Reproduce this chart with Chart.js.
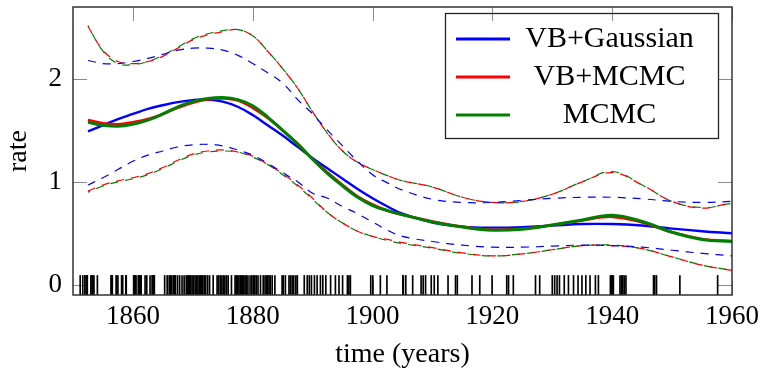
<!DOCTYPE html>
<html><head><meta charset="utf-8">
<script src="https://cdn.jsdelivr.net/npm/chart.js@4/dist/chart.umd.min.js"></script>
<style>html,body{margin:0;padding:0;background:#fff;}#wrap{width:764px;height:375px;}</style>
</head><body><div id="wrap"><canvas id="c" width="764" height="375"></canvas></div>
<script>
// ---- data ----
const years = [1852.5,1855,1857.5,1860,1862.5,1865,1867.5,1870,1872.5,1875,1877.5,1880,1882.5,1885,1887.5,1890,1892.5,1895,1897.5,1900,1902.5,1905,1910,1915,1920,1925,1930,1935,1940,1945,1950,1955,1960];

const vbGaussMean  = [1.49,1.55,1.61,1.66,1.71,1.745,1.775,1.795,1.80,1.78,1.73,1.65,1.55,1.45,1.34,1.23,1.13,1.03,0.93,0.84,0.76,0.69,0.605,0.565,0.555,0.56,0.575,0.59,0.59,0.575,0.545,0.52,0.50];
const vbGaussUpper = [2.18,2.15,2.15,2.17,2.20,2.24,2.28,2.30,2.30,2.28,2.23,2.15,2.06,1.96,1.80,1.66,1.50,1.35,1.20,1.07,0.99,0.92,0.83,0.80,0.80,0.82,0.84,0.85,0.85,0.835,0.81,0.80,0.81];
const vbGaussLower = [0.97,1.04,1.12,1.20,1.26,1.30,1.34,1.36,1.365,1.35,1.31,1.26,1.18,1.09,1.00,0.89,0.84,0.76,0.69,0.61,0.53,0.47,0.42,0.385,0.365,0.365,0.375,0.385,0.38,0.365,0.335,0.305,0.28];

const vbMcmcMean   = [1.60,1.57,1.56,1.58,1.61,1.66,1.72,1.77,1.80,1.81,1.79,1.72,1.62,1.50,1.37,1.22,1.09,0.97,0.86,0.78,0.72,0.68,0.615,0.565,0.535,0.545,0.58,0.625,0.66,0.605,0.51,0.445,0.425];
const vbMcmcUpper  = [2.51,2.28,2.17,2.15,2.17,2.22,2.30,2.38,2.43,2.46,2.48,2.42,2.27,2.10,1.91,1.68,1.47,1.30,1.19,1.12,1.06,1.01,0.95,0.85,0.80,0.81,0.88,1.00,1.09,0.97,0.81,0.745,0.80];
const vbMcmcLower  = [0.91,0.97,1.01,1.04,1.08,1.14,1.21,1.27,1.30,1.31,1.29,1.25,1.17,1.08,0.97,0.84,0.70,0.60,0.52,0.47,0.44,0.41,0.36,0.31,0.28,0.30,0.34,0.38,0.38,0.35,0.27,0.19,0.14];

const mcmcMean     = [1.58,1.55,1.54,1.56,1.60,1.66,1.73,1.78,1.81,1.82,1.80,1.74,1.63,1.50,1.37,1.22,1.08,0.96,0.85,0.77,0.72,0.68,0.61,0.56,0.53,0.54,0.58,0.63,0.675,0.615,0.51,0.44,0.42];
const mcmcUpper    = [2.52,2.27,2.15,2.14,2.17,2.23,2.31,2.39,2.44,2.47,2.48,2.42,2.27,2.10,1.91,1.68,1.47,1.30,1.19,1.12,1.06,1.01,0.95,0.85,0.80,0.81,0.88,1.00,1.10,0.97,0.81,0.75,0.79];
const mcmcLower    = [0.90,0.96,1.00,1.03,1.07,1.13,1.20,1.26,1.29,1.30,1.29,1.24,1.17,1.07,0.96,0.83,0.70,0.60,0.52,0.47,0.43,0.40,0.355,0.305,0.28,0.30,0.34,0.38,0.385,0.35,0.27,0.19,0.14];

// observed event times (years), drawn as a rug
const events = [1851.20,1851.63,1851.97,1851.98,1852.31,1852.35,1852.36,1852.39,1852.98,1853.20,1853.23,1853.32,1853.50,1854.07,
1856.35,1856.42,1856.50,1856.56,1857.22,1857.26,1857.50,1858.11,1858.30,1858.81,1858.89,
1860.12,1860.29,1860.30,1860.41,1860.52,1860.89,1861.05,1861.23,1861.38,1862.03,1862.31,1862.86,1863.22,1863.27,1863.49,1863.58,
1865.30,1865.72,1866.05,1866.20,1866.34,1866.50,1866.78,1866.96,1867.10,1867.45,1867.80,1868.20,1868.55,1868.90,
1869.05,1869.25,1869.42,1869.65,1869.88,1870.12,1870.38,1870.62,1870.85,1871.08,1871.27,1871.45,1871.66,1871.90,
1872.15,1872.48,1872.80,1873.40,1874.05,1874.30,1874.58,1874.85,1875.10,1875.35,1875.62,1875.90,1876.45,
1877.05,1877.25,1877.47,1877.70,1877.92,1878.10,1878.30,1878.52,1878.72,1878.95,1879.20,1879.55,1879.85,
1880.10,1880.35,1880.60,1880.88,1881.30,1881.75,1882.05,1882.28,1882.50,1882.72,1882.94,1883.25,1883.70,
1884.90,1885.10,1885.45,1886.05,1886.30,1886.58,1886.85,1887.20,1887.45,1888.60,1889.10,1889.45,1889.80,
1890.30,1890.75,1891.30,1891.70,1892.20,1893.00,1893.80,1894.40,1895.00,1895.80,1896.05,1896.30,
1899.70,1900.05,1901.30,1902.40,1905.05,1905.15,1905.55,1906.70,1908.10,1908.45,1908.85,1909.80,1910.30,1910.90,
1912.60,1913.85,1914.15,1916.60,1917.90,1919.95,1922.40,1922.70,1923.50,1927.20,1927.90,
1930.00,1930.40,1930.80,1931.20,1932.00,1932.70,1933.55,1934.30,1934.95,1935.60,1936.30,1937.20,1937.70,
1939.70,1939.85,1940.00,1940.20,1941.30,1941.55,1941.75,1942.00,1942.30,1946.90,1947.10,1947.40,1951.30,1957.60];

const xTicks = [1860,1880,1900,1920,1940,1960];
const yTicks = [0,1,2];
const xRange = [1850,1960];
const yRange = [-0.1,2.7];
const rugTop = 0.09;
const names = ['VB+Gaussian','VB+MCMC','MCMC'];

// ---- chart ----
Chart.defaults.font.family = "'Liberation Serif', 'DejaVu Serif', serif";
Chart.defaults.color = '#000';

const pts = arr => years.map((x,i)=>({x, y: arr[i]}));
function line(label, arr, color, width, dash, dashOffset){
  return {type:'line', label, data: pts(arr), borderColor: color, backgroundColor: color,
    borderWidth: width, borderDash: dash || [], borderDashOffset: dashOffset || 0,
    pointRadius: 0, fill: false, tension: 0.4, order: dash ? 5 : 1};
}
const DASH = [8,7];
const datasets = [
  {type:'bar', label:'events', data: events.map(t=>({x:t, y:[yRange[0], rugTop]})),
   backgroundColor:'#000', borderWidth:0, barThickness:1, order: 20},
  line('VB+Gaussian upper', vbGaussUpper, '#0000ff', 1.2, DASH, 0),
  line('VB+Gaussian lower', vbGaussLower, '#0000ff', 1.2, DASH, 0),
  line('VB+MCMC upper', vbMcmcUpper, '#ff0000', 1.2, DASH, 0),
  line('VB+MCMC lower', vbMcmcLower, '#ff0000', 1.2, DASH, 0),
  line('MCMC upper', mcmcUpper, '#008000', 1.2, DASH, 6),
  line('MCMC lower', mcmcLower, '#008000', 1.2, DASH, 6),
  line(names[0], vbGaussMean, '#0000ff', 2.4),
  line(names[1], vbMcmcMean, '#ff0000', 2.6),
  line(names[2], mcmcMean, '#008000', 3.0)
];
datasets[7].order = 3; datasets[8].order = 2; datasets[9].order = 1;
const legendIdx = [7,8,9];

const framePlugin = {
  id:'frame',
  beforeDatasetsDraw(chart){
    const {ctx, chartArea:{left,right,top,bottom}, scales:{x,y}} = chart;
    ctx.save(); ctx.strokeStyle = '#8a8a8a'; ctx.lineWidth = 1;
    const L = 14;
    ctx.beginPath();
    xTicks.forEach(v=>{ const p = Math.round(x.getPixelForValue(v))+0.5;
      ctx.moveTo(p,bottom); ctx.lineTo(p,bottom-L); ctx.moveTo(p,top); ctx.lineTo(p,top+L); });
    yTicks.forEach(v=>{ const p = Math.round(y.getPixelForValue(v))+0.5;
      ctx.moveTo(left,p); ctx.lineTo(left+L,p); ctx.moveTo(right,p); ctx.lineTo(right-L,p); });
    ctx.stroke(); ctx.restore();
  },
  afterLayout(chart){
    const lg = chart.legend; if(!lg) return;
    lg.left = 448; lg.top = 16; lg.width = 246; lg.height = 122;
    lg.right = lg.left + lg.width; lg.bottom = lg.top + lg.height;
  },
  afterDraw(chart){
    const {ctx, chartArea:{left,right,top,bottom}} = chart;
    ctx.save(); ctx.strokeStyle = '#333'; ctx.lineWidth = 1.5;
    ctx.strokeRect(left, top, right-left, bottom-top);
    ctx.strokeStyle = '#222'; ctx.lineWidth = 1.3;
    ctx.strokeRect(445.5, 13.5, 273, 125);
    ctx.restore();
  }
};
const noPad = s => { s.paddingTop = 0; s.paddingBottom = 0; s.paddingLeft = 0; s.paddingRight = 0; };

new Chart(document.getElementById('c'), {
  type:'line',
  data:{datasets},
  options:{
    responsive:false, animation:false, devicePixelRatio:1,
    layout:{padding:{left:0, right:32, top:7, bottom:0}},
    scales:{
      x:{type:'linear', min:xRange[0], max:xRange[1], offset:false,
         grid:{display:false, drawTicks:false}, border:{display:false},
         afterBuildTicks: s => { s.ticks = xTicks.map(v=>({value:v})); },
         afterFit: s => { s.height = 80; noPad(s); },
         ticks:{font:{size:27}, padding:6, maxRotation:0, autoSkip:false, callback: v => String(v)},
         title:{display:true, text:'time (years)', font:{size:28}, padding:{top:0,bottom:4}}},
      y:{type:'linear', min:yRange[0], max:yRange[1],
         grid:{display:false, drawTicks:false}, border:{display:false},
         afterBuildTicks: s => { s.ticks = yTicks.map(v=>({value:v})); },
         afterFit: s => { s.width = 73; noPad(s); },
         ticks:{font:{size:27}, padding:11, callback: v => String(v)},
         title:{display:true, text:'rate', font:{size:28}, padding:{top:2,bottom:0}}}
    },
    plugins:{
      tooltip:{enabled:false},
      legend:{position:'chartArea', align:'start',
        labels:{boxWidth:54, boxHeight:3, padding:8, textAlign:'center',
          font:{size:30}, color:'#000',
          generateLabels: chart => legendIdx.map(i => {
            const ds = chart.data.datasets[i];
            return {text: ds.label, fillStyle: ds.borderColor, strokeStyle: ds.borderColor,
                    lineWidth: 0, hidden:false, datasetIndex:i};
          })}}
    }
  },
  plugins:[framePlugin]
});
</script></body></html>
